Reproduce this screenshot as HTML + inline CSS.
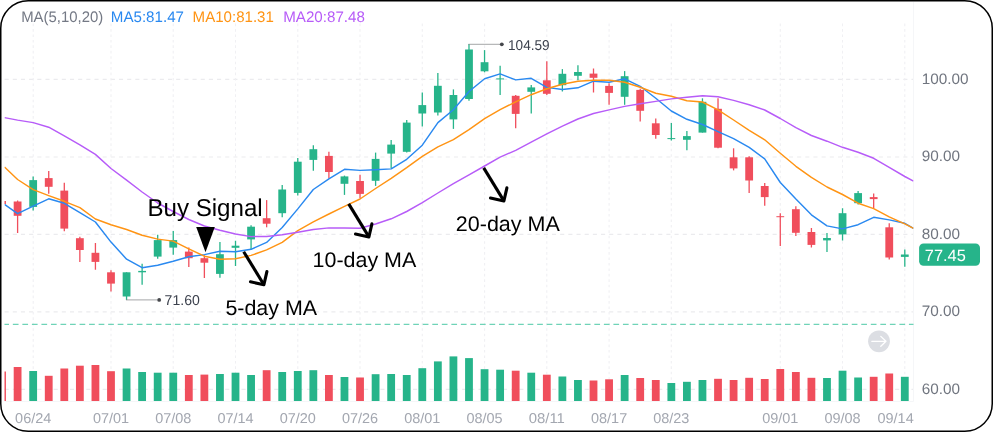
<!DOCTYPE html>
<html lang="en"><head><meta charset="utf-8"><title>MA chart</title>
<style>html,body{margin:0;padding:0;background:#fff;}body{width:993px;height:432px;overflow:hidden;}svg{display:block;}text{font-family:"Liberation Sans",Arial,sans-serif;text-rendering:geometricPrecision;}</style>
</head><body>
<svg width="993" height="432" viewBox="0 0 993 432">
<defs><clipPath id="plot"><rect x="4.5" y="0" width="909.0" height="432"/></clipPath></defs>
<rect x="0" y="0" width="993" height="432" fill="#fff"/>
<g stroke="#ebebee" stroke-width="1.1" stroke-dasharray="4.1 4.07" fill="none">
<line x1="4.6" y1="79.4" x2="913.5" y2="79.4"/>
<line x1="4.6" y1="157.0" x2="913.5" y2="157.0"/>
<line x1="4.6" y1="234.4" x2="913.5" y2="234.4"/>
<line x1="4.6" y1="311.9" x2="913.5" y2="311.9"/>
<line x1="4.6" y1="389.4" x2="913.5" y2="389.4"/>
</g>
<g stroke="#f0f0f3" stroke-width="1.1" stroke-dasharray="2.6 2.84" fill="none">
<line x1="33.2" y1="23.6" x2="33.2" y2="401"/>
<line x1="111.0" y1="23.6" x2="111.0" y2="401"/>
<line x1="173.2" y1="23.6" x2="173.2" y2="401"/>
<line x1="235.5" y1="23.6" x2="235.5" y2="401"/>
<line x1="297.8" y1="23.6" x2="297.8" y2="401"/>
<line x1="360.0" y1="23.6" x2="360.0" y2="401"/>
<line x1="422.3" y1="23.6" x2="422.3" y2="401"/>
<line x1="484.6" y1="23.6" x2="484.6" y2="401"/>
<line x1="546.8" y1="23.6" x2="546.8" y2="401"/>
<line x1="609.1" y1="23.6" x2="609.1" y2="401"/>
<line x1="671.3" y1="23.6" x2="671.3" y2="401"/>
<line x1="780.3" y1="23.6" x2="780.3" y2="401"/>
<line x1="842.5" y1="23.6" x2="842.5" y2="401"/>
<line x1="904.8" y1="23.6" x2="904.8" y2="401"/>
</g>
<line x1="913.5" y1="2" x2="913.5" y2="401.5" stroke="#f5f6f8" stroke-width="1"/>
<line x1="4.5" y1="401.5" x2="913.5" y2="401.5" stroke="#f5f6f8" stroke-width="1"/>
<line x1="4.5" y1="324.45" x2="913.5" y2="324.45" stroke="#6fd3b7" stroke-width="1.3" stroke-dasharray="5.7 3.833" stroke-dashoffset="1.2"/>
<g clip-path="url(#plot)">
<rect x="-1.86" y="371.5" width="7.8" height="29.5" fill="#f04e5c"/>
<rect x="13.70" y="367.0" width="7.8" height="34.0" fill="#f04e5c"/>
<rect x="29.27" y="371.0" width="7.8" height="30.0" fill="#26b48a"/>
<rect x="44.83" y="375.8" width="7.8" height="25.2" fill="#f04e5c"/>
<rect x="60.40" y="368.5" width="7.8" height="32.5" fill="#f04e5c"/>
<rect x="75.96" y="365.7" width="7.8" height="35.3" fill="#f04e5c"/>
<rect x="91.53" y="365.0" width="7.8" height="36.0" fill="#f04e5c"/>
<rect x="107.09" y="371.2" width="7.8" height="29.8" fill="#f04e5c"/>
<rect x="122.66" y="368.5" width="7.8" height="32.5" fill="#26b48a"/>
<rect x="138.22" y="372.0" width="7.8" height="29.0" fill="#26b48a"/>
<rect x="153.78" y="372.7" width="7.8" height="28.3" fill="#26b48a"/>
<rect x="169.35" y="372.7" width="7.8" height="28.3" fill="#26b48a"/>
<rect x="184.91" y="375.0" width="7.8" height="26.0" fill="#f04e5c"/>
<rect x="200.48" y="374.6" width="7.8" height="26.4" fill="#f04e5c"/>
<rect x="216.04" y="374.0" width="7.8" height="27.0" fill="#26b48a"/>
<rect x="231.61" y="372.7" width="7.8" height="28.3" fill="#26b48a"/>
<rect x="247.17" y="375.0" width="7.8" height="26.0" fill="#26b48a"/>
<rect x="262.74" y="370.2" width="7.8" height="30.8" fill="#f04e5c"/>
<rect x="278.31" y="372.0" width="7.8" height="29.0" fill="#26b48a"/>
<rect x="293.87" y="371.0" width="7.8" height="30.0" fill="#26b48a"/>
<rect x="309.44" y="370.2" width="7.8" height="30.8" fill="#26b48a"/>
<rect x="325.00" y="375.0" width="7.8" height="26.0" fill="#f04e5c"/>
<rect x="340.57" y="377.0" width="7.8" height="24.0" fill="#26b48a"/>
<rect x="356.13" y="377.5" width="7.8" height="23.5" fill="#f04e5c"/>
<rect x="371.70" y="374.2" width="7.8" height="26.8" fill="#26b48a"/>
<rect x="387.26" y="374.0" width="7.8" height="27.0" fill="#26b48a"/>
<rect x="402.83" y="375.0" width="7.8" height="26.0" fill="#26b48a"/>
<rect x="418.39" y="368.2" width="7.8" height="32.8" fill="#26b48a"/>
<rect x="433.96" y="361.4" width="7.8" height="39.6" fill="#26b48a"/>
<rect x="449.52" y="356.4" width="7.8" height="44.6" fill="#26b48a"/>
<rect x="465.09" y="358.1" width="7.8" height="42.9" fill="#26b48a"/>
<rect x="480.65" y="369.2" width="7.8" height="31.8" fill="#26b48a"/>
<rect x="496.22" y="369.7" width="7.8" height="31.3" fill="#26b48a"/>
<rect x="511.78" y="370.7" width="7.8" height="30.3" fill="#f04e5c"/>
<rect x="527.35" y="372.7" width="7.8" height="28.3" fill="#26b48a"/>
<rect x="542.91" y="374.7" width="7.8" height="26.3" fill="#f04e5c"/>
<rect x="558.48" y="376.5" width="7.8" height="24.5" fill="#26b48a"/>
<rect x="574.04" y="380.0" width="7.8" height="21.0" fill="#26b48a"/>
<rect x="589.61" y="380.5" width="7.8" height="20.5" fill="#f04e5c"/>
<rect x="605.17" y="379.3" width="7.8" height="21.7" fill="#f04e5c"/>
<rect x="620.74" y="375.0" width="7.8" height="26.0" fill="#26b48a"/>
<rect x="636.30" y="378.0" width="7.8" height="23.0" fill="#f04e5c"/>
<rect x="651.87" y="380.0" width="7.8" height="21.0" fill="#f04e5c"/>
<rect x="667.43" y="383.0" width="7.8" height="18.0" fill="#26b48a"/>
<rect x="683.00" y="381.8" width="7.8" height="19.2" fill="#26b48a"/>
<rect x="698.56" y="380.0" width="7.8" height="21.0" fill="#26b48a"/>
<rect x="714.12" y="378.8" width="7.8" height="22.2" fill="#f04e5c"/>
<rect x="729.69" y="380.0" width="7.8" height="21.0" fill="#f04e5c"/>
<rect x="745.25" y="377.8" width="7.8" height="23.2" fill="#f04e5c"/>
<rect x="760.82" y="379.0" width="7.8" height="22.0" fill="#f04e5c"/>
<rect x="776.38" y="369.0" width="7.8" height="32.0" fill="#f04e5c"/>
<rect x="791.95" y="372.0" width="7.8" height="29.0" fill="#f04e5c"/>
<rect x="807.51" y="377.8" width="7.8" height="23.2" fill="#f04e5c"/>
<rect x="823.08" y="378.0" width="7.8" height="23.0" fill="#26b48a"/>
<rect x="838.64" y="370.7" width="7.8" height="30.3" fill="#26b48a"/>
<rect x="854.21" y="377.5" width="7.8" height="23.5" fill="#26b48a"/>
<rect x="869.77" y="376.8" width="7.8" height="24.2" fill="#f04e5c"/>
<rect x="885.34" y="373.5" width="7.8" height="27.5" fill="#f04e5c"/>
<rect x="900.90" y="376.8" width="7.8" height="24.2" fill="#26b48a"/>
<rect x="-1.86" y="201" width="7.8" height="3" fill="#f04e5c"/>
<line x1="17.60" y1="200.6" x2="17.60" y2="232.9" stroke="#f04e5c" stroke-width="1.3"/>
<rect x="13.70" y="201.5" width="7.8" height="14.3" fill="#f04e5c"/>
<line x1="33.16" y1="176.5" x2="33.16" y2="210.5" stroke="#26b48a" stroke-width="1.3"/>
<rect x="29.27" y="180.1" width="7.8" height="26.8" fill="#26b48a"/>
<line x1="48.73" y1="171.0" x2="48.73" y2="193.8" stroke="#f04e5c" stroke-width="1.3"/>
<rect x="44.83" y="178.1" width="7.8" height="8.7" fill="#f04e5c"/>
<line x1="64.30" y1="182.7" x2="64.30" y2="231.3" stroke="#f04e5c" stroke-width="1.3"/>
<rect x="60.40" y="190.6" width="7.8" height="38.0" fill="#f04e5c"/>
<line x1="79.86" y1="236.7" x2="79.86" y2="261.9" stroke="#f04e5c" stroke-width="1.3"/>
<rect x="75.96" y="238.2" width="7.8" height="11.8" fill="#f04e5c"/>
<line x1="95.43" y1="243.1" x2="95.43" y2="269.7" stroke="#f04e5c" stroke-width="1.3"/>
<rect x="91.53" y="252.8" width="7.8" height="9.1" fill="#f04e5c"/>
<line x1="110.99" y1="270.3" x2="110.99" y2="291.5" stroke="#f04e5c" stroke-width="1.3"/>
<rect x="107.09" y="272.3" width="7.8" height="11.3" fill="#f04e5c"/>
<line x1="126.56" y1="272.3" x2="126.56" y2="299.9" stroke="#26b48a" stroke-width="1.3"/>
<rect x="122.66" y="272.3" width="7.8" height="24.2" fill="#26b48a"/>
<line x1="142.12" y1="263.7" x2="142.12" y2="284.8" stroke="#26b48a" stroke-width="1.3"/>
<rect x="138.22" y="270.9" width="7.8" height="1.4" fill="#26b48a"/>
<line x1="157.69" y1="234.7" x2="157.69" y2="258.8" stroke="#26b48a" stroke-width="1.3"/>
<rect x="153.78" y="240.1" width="7.8" height="16.5" fill="#26b48a"/>
<line x1="173.25" y1="231.0" x2="173.25" y2="254.8" stroke="#26b48a" stroke-width="1.3"/>
<rect x="169.35" y="240.1" width="7.8" height="7.5" fill="#26b48a"/>
<line x1="188.81" y1="247.6" x2="188.81" y2="266.9" stroke="#f04e5c" stroke-width="1.3"/>
<rect x="184.91" y="251.6" width="7.8" height="6.6" fill="#f04e5c"/>
<line x1="204.38" y1="255.2" x2="204.38" y2="278.0" stroke="#f04e5c" stroke-width="1.3"/>
<rect x="200.48" y="258.2" width="7.8" height="4.5" fill="#f04e5c"/>
<line x1="219.94" y1="242.1" x2="219.94" y2="277.8" stroke="#26b48a" stroke-width="1.3"/>
<rect x="216.04" y="254.2" width="7.8" height="19.7" fill="#26b48a"/>
<line x1="235.51" y1="240.7" x2="235.51" y2="265.9" stroke="#26b48a" stroke-width="1.3"/>
<rect x="231.61" y="245.7" width="7.8" height="2.1" fill="#26b48a"/>
<line x1="251.07" y1="225.3" x2="251.07" y2="249.5" stroke="#26b48a" stroke-width="1.3"/>
<rect x="247.17" y="226.7" width="7.8" height="12.7" fill="#26b48a"/>
<line x1="266.64" y1="200.1" x2="266.64" y2="227.3" stroke="#f04e5c" stroke-width="1.3"/>
<rect x="262.74" y="218.2" width="7.8" height="5.5" fill="#f04e5c"/>
<line x1="282.21" y1="184.9" x2="282.21" y2="217.2" stroke="#26b48a" stroke-width="1.3"/>
<rect x="278.31" y="189.5" width="7.8" height="23.7" fill="#26b48a"/>
<line x1="297.77" y1="157.9" x2="297.77" y2="195.5" stroke="#26b48a" stroke-width="1.3"/>
<rect x="293.87" y="161.7" width="7.8" height="31.2" fill="#26b48a"/>
<line x1="313.34" y1="145.2" x2="313.34" y2="170.8" stroke="#26b48a" stroke-width="1.3"/>
<rect x="309.44" y="149.2" width="7.8" height="10.7" fill="#26b48a"/>
<line x1="328.90" y1="151.8" x2="328.90" y2="178.4" stroke="#f04e5c" stroke-width="1.3"/>
<rect x="325.00" y="155.9" width="7.8" height="16.1" fill="#f04e5c"/>
<line x1="344.47" y1="175.6" x2="344.47" y2="194.9" stroke="#26b48a" stroke-width="1.3"/>
<rect x="340.57" y="176.4" width="7.8" height="7.4" fill="#26b48a"/>
<line x1="360.03" y1="174.8" x2="360.03" y2="198.1" stroke="#f04e5c" stroke-width="1.3"/>
<rect x="356.13" y="181.0" width="7.8" height="12.9" fill="#f04e5c"/>
<line x1="375.60" y1="152.6" x2="375.60" y2="185.9" stroke="#26b48a" stroke-width="1.3"/>
<rect x="371.70" y="158.9" width="7.8" height="21.9" fill="#26b48a"/>
<line x1="391.16" y1="140.1" x2="391.16" y2="168.3" stroke="#26b48a" stroke-width="1.3"/>
<rect x="387.26" y="144.6" width="7.8" height="9.0" fill="#26b48a"/>
<line x1="406.73" y1="120.0" x2="406.73" y2="152.6" stroke="#26b48a" stroke-width="1.3"/>
<rect x="402.83" y="122.6" width="7.8" height="29.2" fill="#26b48a"/>
<line x1="422.29" y1="92.4" x2="422.29" y2="126.4" stroke="#26b48a" stroke-width="1.3"/>
<rect x="418.39" y="105.1" width="7.8" height="8.4" fill="#26b48a"/>
<line x1="437.86" y1="72.9" x2="437.86" y2="115.6" stroke="#26b48a" stroke-width="1.3"/>
<rect x="433.96" y="85.8" width="7.8" height="26.7" fill="#26b48a"/>
<line x1="453.42" y1="89.4" x2="453.42" y2="128.9" stroke="#26b48a" stroke-width="1.3"/>
<rect x="449.52" y="95.0" width="7.8" height="24.4" fill="#26b48a"/>
<line x1="468.99" y1="44.1" x2="468.99" y2="100.8" stroke="#26b48a" stroke-width="1.3"/>
<rect x="465.09" y="49.5" width="7.8" height="49.5" fill="#26b48a"/>
<line x1="484.55" y1="50.1" x2="484.55" y2="72.3" stroke="#26b48a" stroke-width="1.3"/>
<rect x="480.65" y="62.2" width="7.8" height="9.1" fill="#26b48a"/>
<line x1="500.12" y1="65.8" x2="500.12" y2="95.0" stroke="#26b48a" stroke-width="1.3"/>
<rect x="496.22" y="78.4" width="7.8" height="1.0" fill="#26b48a"/>
<line x1="515.68" y1="95.0" x2="515.68" y2="128.3" stroke="#f04e5c" stroke-width="1.3"/>
<rect x="511.78" y="95.8" width="7.8" height="18.1" fill="#f04e5c"/>
<line x1="531.25" y1="85.0" x2="531.25" y2="113.5" stroke="#26b48a" stroke-width="1.3"/>
<rect x="527.35" y="87.4" width="7.8" height="4.4" fill="#26b48a"/>
<line x1="546.81" y1="61.2" x2="546.81" y2="95.0" stroke="#f04e5c" stroke-width="1.3"/>
<rect x="542.91" y="80.3" width="7.8" height="13.5" fill="#f04e5c"/>
<line x1="562.38" y1="69.1" x2="562.38" y2="91.5" stroke="#26b48a" stroke-width="1.3"/>
<rect x="558.48" y="73.8" width="7.8" height="11.4" fill="#26b48a"/>
<line x1="577.94" y1="65.3" x2="577.94" y2="80.2" stroke="#26b48a" stroke-width="1.3"/>
<rect x="574.04" y="72.0" width="7.8" height="3.8" fill="#26b48a"/>
<line x1="593.50" y1="68.5" x2="593.50" y2="92.5" stroke="#f04e5c" stroke-width="1.3"/>
<rect x="589.61" y="73.6" width="7.8" height="4.2" fill="#f04e5c"/>
<line x1="609.07" y1="83.2" x2="609.07" y2="104.8" stroke="#f04e5c" stroke-width="1.3"/>
<rect x="605.17" y="85.9" width="7.8" height="7.0" fill="#f04e5c"/>
<line x1="624.63" y1="71.1" x2="624.63" y2="104.8" stroke="#26b48a" stroke-width="1.3"/>
<rect x="620.74" y="76.2" width="7.8" height="20.6" fill="#26b48a"/>
<line x1="640.20" y1="88.7" x2="640.20" y2="121.5" stroke="#f04e5c" stroke-width="1.3"/>
<rect x="636.30" y="89.9" width="7.8" height="20.9" fill="#f04e5c"/>
<line x1="655.76" y1="118.5" x2="655.76" y2="138.8" stroke="#f04e5c" stroke-width="1.3"/>
<rect x="651.87" y="123.3" width="7.8" height="11.7" fill="#f04e5c"/>
<line x1="671.33" y1="123.0" x2="671.33" y2="140.6" stroke="#26b48a" stroke-width="1.3"/>
<rect x="667.43" y="138.1" width="7.8" height="1.0" fill="#26b48a"/>
<line x1="686.89" y1="131.1" x2="686.89" y2="150.3" stroke="#26b48a" stroke-width="1.3"/>
<rect x="683.00" y="136.1" width="7.8" height="3.7" fill="#26b48a"/>
<line x1="702.46" y1="98.3" x2="702.46" y2="132.6" stroke="#26b48a" stroke-width="1.3"/>
<rect x="698.56" y="101.8" width="7.8" height="30.8" fill="#26b48a"/>
<line x1="718.02" y1="98.3" x2="718.02" y2="148.3" stroke="#f04e5c" stroke-width="1.3"/>
<rect x="714.12" y="108.8" width="7.8" height="38.9" fill="#f04e5c"/>
<line x1="733.59" y1="148.3" x2="733.59" y2="170.4" stroke="#f04e5c" stroke-width="1.3"/>
<rect x="729.69" y="157.3" width="7.8" height="11.1" fill="#f04e5c"/>
<line x1="749.15" y1="156.3" x2="749.15" y2="193.0" stroke="#f04e5c" stroke-width="1.3"/>
<rect x="745.25" y="157.3" width="7.8" height="23.2" fill="#f04e5c"/>
<line x1="764.72" y1="183.0" x2="764.72" y2="205.8" stroke="#f04e5c" stroke-width="1.3"/>
<rect x="760.82" y="186.0" width="7.8" height="11.1" fill="#f04e5c"/>
<line x1="780.28" y1="213.2" x2="780.28" y2="246.1" stroke="#f04e5c" stroke-width="1.3"/>
<rect x="776.38" y="216.2" width="7.8" height="1.0" fill="#f04e5c"/>
<line x1="795.85" y1="206.2" x2="795.85" y2="236.0" stroke="#f04e5c" stroke-width="1.3"/>
<rect x="791.95" y="209.2" width="7.8" height="23.6" fill="#f04e5c"/>
<line x1="811.41" y1="227.9" x2="811.41" y2="247.5" stroke="#f04e5c" stroke-width="1.3"/>
<rect x="807.51" y="232.0" width="7.8" height="12.9" fill="#f04e5c"/>
<line x1="826.98" y1="233.0" x2="826.98" y2="252.1" stroke="#26b48a" stroke-width="1.3"/>
<rect x="823.08" y="238.0" width="7.8" height="2.4" fill="#26b48a"/>
<line x1="842.54" y1="208.2" x2="842.54" y2="240.4" stroke="#26b48a" stroke-width="1.3"/>
<rect x="838.64" y="213.2" width="7.8" height="21.2" fill="#26b48a"/>
<line x1="858.11" y1="191.1" x2="858.11" y2="204.6" stroke="#26b48a" stroke-width="1.3"/>
<rect x="854.21" y="193.1" width="7.8" height="10.1" fill="#26b48a"/>
<line x1="873.67" y1="193.5" x2="873.67" y2="208.2" stroke="#f04e5c" stroke-width="1.3"/>
<rect x="869.77" y="197.1" width="7.8" height="2.0" fill="#f04e5c"/>
<line x1="889.24" y1="223.3" x2="889.24" y2="259.6" stroke="#f04e5c" stroke-width="1.3"/>
<rect x="885.34" y="227.3" width="7.8" height="30.2" fill="#f04e5c"/>
<line x1="904.80" y1="249.6" x2="904.80" y2="266.7" stroke="#26b48a" stroke-width="1.3"/>
<rect x="900.90" y="254.5" width="7.8" height="2.4" fill="#26b48a"/>
<path d="M4.5 204.3 L17.6 213.7 L33.2 206.2 L48.7 198.8 L64.3 203.3 L79.9 212.7 L95.4 222.0 L111.0 242.1 L126.6 259.2 L142.1 267.7 L157.7 265.3 L173.2 261.3 L188.8 256.8 L204.4 254.6 L219.9 251.2 L235.5 251.8 L251.1 249.3 L266.6 242.4 L282.2 227.5 L297.8 208.9 L313.3 189.5 L328.9 178.8 L344.5 169.3 L360.0 170.4 L375.6 169.7 L391.2 168.9 L406.7 159.3 L422.3 145.2 L437.9 122.6 L453.4 109.8 L469.0 91.5 L484.6 78.7 L500.1 73.9 L515.7 79.9 L531.2 78.3 L546.8 87.4 L562.4 89.5 L577.9 87.8 L593.5 81.2 L609.1 82.2 L624.6 78.8 L640.2 86.3 L655.8 98.3 L671.3 111.0 L686.9 119.3 L702.5 124.5 L718.0 131.7 L733.6 138.6 L749.2 147.3 L764.7 158.9 L780.3 182.5 L795.9 199.1 L811.4 214.8 L827.0 225.9 L842.5 228.9 L858.1 224.7 L873.7 217.3 L889.2 219.9 L904.8 223.3 L913.5 228.3" fill="none" stroke="#2a89f0" stroke-width="1.45" stroke-linejoin="round"/>
<path d="M4.5 167.0 L17.6 179.5 L33.2 189.6 L48.7 195.6 L64.3 201.3 L79.9 207.7 L95.4 219.0 L111.0 224.8 L126.6 229.5 L142.1 235.3 L157.7 239.1 L173.2 241.1 L188.8 248.9 L204.4 256.2 L219.9 259.2 L235.5 258.8 L251.1 255.4 L266.6 249.9 L282.2 242.3 L297.8 230.7 L313.3 221.8 L328.9 214.0 L344.5 206.4 L360.0 199.0 L375.6 188.5 L391.2 178.4 L406.7 167.7 L422.3 156.3 L437.9 146.8 L453.4 139.6 L469.0 129.7 L484.6 118.7 L500.1 109.7 L515.7 101.8 L531.2 94.7 L546.8 88.8 L562.4 84.3 L577.9 81.3 L593.5 80.2 L609.1 80.2 L624.6 82.2 L640.2 87.3 L655.8 93.3 L671.3 96.3 L686.9 100.8 L702.5 102.0 L718.0 109.8 L733.6 120.0 L749.2 130.3 L764.7 139.8 L780.3 153.3 L795.9 166.3 L811.4 177.3 L827.0 187.0 L842.5 194.5 L858.1 203.2 L873.7 208.6 L889.2 216.9 L904.8 223.9 L913.5 228.3" fill="none" stroke="#ff9414" stroke-width="1.45" stroke-linejoin="round"/>
<path d="M4.5 117.6 L17.6 120.1 L33.2 122.6 L48.7 127.2 L64.3 135.9 L79.9 144.9 L95.4 154.4 L111.0 168.5 L126.6 180.2 L142.1 192.0 L157.7 203.0 L173.2 211.5 L188.8 219.5 L204.4 226.0 L219.9 230.3 L235.5 234.0 L251.1 236.6 L266.6 236.5 L282.2 234.7 L297.8 232.2 L313.3 229.5 L328.9 227.9 L344.5 228.0 L360.0 228.2 L375.6 224.0 L391.2 218.8 L406.7 211.5 L422.3 202.6 L437.9 193.0 L453.4 183.6 L469.0 174.8 L484.6 166.0 L500.1 157.2 L515.7 150.3 L531.2 142.2 L546.8 133.9 L562.4 126.1 L577.9 119.0 L593.5 113.5 L609.1 109.9 L624.6 106.4 L640.2 103.8 L655.8 101.4 L671.3 98.9 L686.9 97.3 L702.5 95.7 L718.0 96.7 L733.6 100.4 L749.2 104.8 L764.7 110.0 L780.3 118.5 L795.9 127.7 L811.4 135.5 L827.0 141.2 L842.5 147.3 L858.1 152.3 L873.7 158.3 L889.2 167.4 L904.8 176.5 L913.5 181.1" fill="none" stroke="#b75cf8" stroke-width="1.45" stroke-linejoin="round"/>
</g>
<path d="M468.4 44.3 H500.5" fill="none" stroke="#8e8f92" stroke-width="0.8"/>
<circle cx="501.8" cy="44.3" r="1.9" fill="#45474b"/>
<text x="508.0" y="49.9" font-size="14.3" fill="#3c414d" textLength="41.6" lengthAdjust="spacingAndGlyphs">104.59</text>
<path d="M126.0 299.9 H158" fill="none" stroke="#8e8f92" stroke-width="0.8"/>
<circle cx="159.2" cy="299.9" r="1.9" fill="#45474b"/>
<text x="164.6" y="305.4" font-size="14.3" fill="#3c414d" textLength="35.2" lengthAdjust="spacingAndGlyphs">71.60</text>
<text x="21.2" y="22.4" font-size="15.3" fill="#747985" textLength="82" lengthAdjust="spacingAndGlyphs">MA(5,10,20)</text>
<text x="110.8" y="22.4" font-size="15.3" fill="#2a89f0" textLength="73.2" lengthAdjust="spacingAndGlyphs">MA5:81.47</text>
<text x="192.6" y="22.4" font-size="15.3" fill="#ff9414" textLength="81.3" lengthAdjust="spacingAndGlyphs">MA10:81.31</text>
<text x="283.2" y="22.4" font-size="15.3" fill="#b75cf8" textLength="81.7" lengthAdjust="spacingAndGlyphs">MA20:87.48</text>
<text x="921.8" y="83.8" font-size="15.1" fill="#70757f" textLength="46.8" lengthAdjust="spacingAndGlyphs">100.00</text>
<text x="921.8" y="161.3" font-size="15.1" fill="#70757f" textLength="38.3" lengthAdjust="spacingAndGlyphs">90.00</text>
<text x="921.8" y="238.8" font-size="15.1" fill="#70757f" textLength="38.3" lengthAdjust="spacingAndGlyphs">80.00</text>
<text x="921.8" y="316.2" font-size="15.1" fill="#70757f" textLength="38.3" lengthAdjust="spacingAndGlyphs">70.00</text>
<text x="921.8" y="393.8" font-size="15.1" fill="#70757f" textLength="38.3" lengthAdjust="spacingAndGlyphs">60.00</text>
<rect x="919.1" y="243.4" width="60.9" height="22.4" rx="4.5" ry="4.5" fill="#26b48a"/>
<text x="924.8" y="260.85" font-size="16.2" fill="#fff" textLength="41" lengthAdjust="spacingAndGlyphs">77.45</text>
<text x="15.1" y="422.85" font-size="14.2" fill="#a3a7b0" textLength="36.2" lengthAdjust="spacingAndGlyphs">06/24</text>
<text x="92.9" y="422.85" font-size="14.2" fill="#a3a7b0" textLength="36.2" lengthAdjust="spacingAndGlyphs">07/01</text>
<text x="155.2" y="422.85" font-size="14.2" fill="#a3a7b0" textLength="36.2" lengthAdjust="spacingAndGlyphs">07/08</text>
<text x="217.4" y="422.85" font-size="14.2" fill="#a3a7b0" textLength="36.2" lengthAdjust="spacingAndGlyphs">07/14</text>
<text x="279.7" y="422.85" font-size="14.2" fill="#a3a7b0" textLength="36.2" lengthAdjust="spacingAndGlyphs">07/20</text>
<text x="341.9" y="422.85" font-size="14.2" fill="#a3a7b0" textLength="36.2" lengthAdjust="spacingAndGlyphs">07/26</text>
<text x="404.2" y="422.85" font-size="14.2" fill="#a3a7b0" textLength="36.2" lengthAdjust="spacingAndGlyphs">08/01</text>
<text x="466.4" y="422.85" font-size="14.2" fill="#a3a7b0" textLength="36.2" lengthAdjust="spacingAndGlyphs">08/05</text>
<text x="528.7" y="422.85" font-size="14.2" fill="#a3a7b0" textLength="36.2" lengthAdjust="spacingAndGlyphs">08/11</text>
<text x="591.0" y="422.85" font-size="14.2" fill="#a3a7b0" textLength="36.2" lengthAdjust="spacingAndGlyphs">08/17</text>
<text x="653.2" y="422.85" font-size="14.2" fill="#a3a7b0" textLength="36.2" lengthAdjust="spacingAndGlyphs">08/23</text>
<text x="762.2" y="422.85" font-size="14.2" fill="#a3a7b0" textLength="36.2" lengthAdjust="spacingAndGlyphs">09/01</text>
<text x="824.4" y="422.85" font-size="14.2" fill="#a3a7b0" textLength="36.2" lengthAdjust="spacingAndGlyphs">09/08</text>
<text x="877.5" y="422.85" font-size="14.2" fill="#a3a7b0" textLength="36.2" lengthAdjust="spacingAndGlyphs">09/14</text>
<circle cx="879" cy="341.3" r="10.9" fill="#dcdee3"/>
<path d="M871.8 341.3 H886 M880.8 336.4 L886 341.3 L880.8 346.2" fill="none" stroke="#fff" stroke-width="1.3" stroke-linecap="round" stroke-linejoin="round"/>
<polygon points="196.2,227.1 214.8,227.1 205.5,252.2" fill="#000"/>
<g fill="none" stroke="#000" stroke-width="3.1">
<path d="M243.7 251.7 L263.9 284.7" stroke-linecap="butt"/>
<path d="M250.5 281.8 L263.9 284.7 L266.9 271.6" stroke-linecap="round" stroke-linejoin="round"/>
<path d="M348.7 203.9 L368.9 236.9" stroke-linecap="butt"/>
<path d="M355.5 234.0 L368.9 236.9 L371.9 223.8" stroke-linecap="round" stroke-linejoin="round"/>
<path d="M483.7 167.9 L503.9 200.9" stroke-linecap="butt"/>
<path d="M490.5 198.0 L503.9 200.9 L506.9 187.8" stroke-linecap="round" stroke-linejoin="round"/>
</g>
<text x="147.4" y="215.9" font-size="24.4" fill="#000" textLength="115.3" lengthAdjust="spacingAndGlyphs">Buy Signal</text>
<text x="225.4" y="314.9" font-size="21.2" fill="#000" textLength="91.7" lengthAdjust="spacingAndGlyphs">5-day MA</text>
<text x="312.5" y="266.8" font-size="21.2" fill="#000" textLength="103.8" lengthAdjust="spacingAndGlyphs">10-day MA</text>
<text x="455.8" y="230.9" font-size="21.2" fill="#000" textLength="104" lengthAdjust="spacingAndGlyphs">20-day MA</text>
<rect x="0.75" y="0.75" width="991.5" height="430.5" rx="27.5" ry="27.5" fill="none" stroke="#000" stroke-width="1.5"/>
</svg></body></html>
